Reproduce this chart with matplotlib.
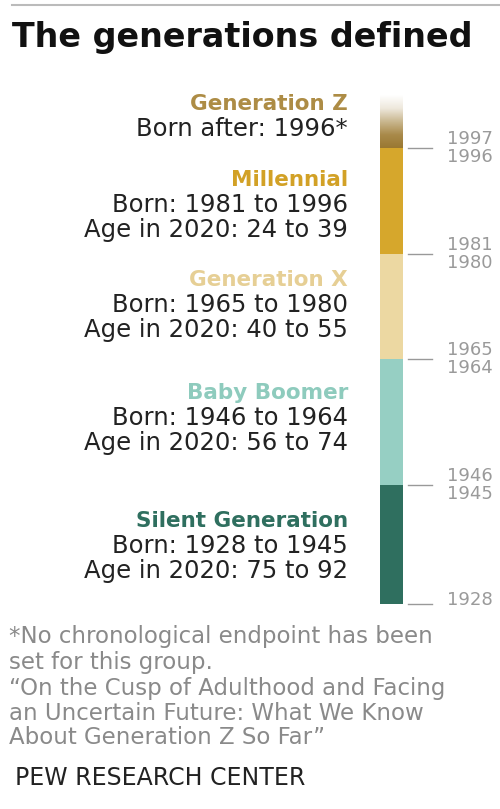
import matplotlib
matplotlib.use("Agg")
import matplotlib.pyplot as plt
import numpy as np
from matplotlib.colors import LinearSegmentedColormap
import matplotlib.transforms as mtransforms

# ---- data ----
generations = ["Silent Generation", "Baby Boomer", "Generation X", "Millennial", "Generation Z"]
starts = [1928, 1946, 1965, 1981, 1997]
ends = [1946, 1965, 1981, 1997, 2005]
bar_colors = ["#2f6f5f", "#96cfc3", "#ecd8a2", "#d6a72c", None]
label_colors = ["#2f6f5f", "#8ecbbd", "#e6cf95", "#d2a126", "#ad8c45"]
born_lines = ["Born: 1928 to 1945", "Born: 1946 to 1964", "Born: 1965 to 1980",
              "Born: 1981 to 1996", "Born after: 1996*"]
age_lines = ["Age in 2020: 75 to 92", "Age in 2020: 56 to 74", "Age in 2020: 40 to 55",
             "Age in 2020: 24 to 39", None]
boundary_years = [1946, 1965, 1981, 1997]
upper_tick_labels = ["1946", "1965", "1981", "1997"]
lower_tick_labels = ["1945", "1964", "1980", "1996"]
bottom_year = 1928
bottom_label = "1928"
title = "The generations defined"
footnote = ["*No chronological endpoint has been",
            "set for this group.",
            "\u201cOn the Cusp of Adulthood and Facing",
            "an Uncertain Future: What We Know",
            "About Generation Z So Far\u201d"]
source = "PEW RESEARCH CENTER"

W, H = 500, 809
fig = plt.figure(figsize=(W / 100, H / 100), dpi=100)
fig.patch.set_facecolor("white")

def fy(py):
    return 1 - py / H

def fx(px):
    return px / W

# top rule
fig.add_artist(plt.Line2D([fx(12), fx(500)], [fy(5), fy(5)], color="#bbbbbb", lw=1.5))

fig.text(fx(12), fy(37), title, fontsize=24, fontweight="bold", color="#111111",
         va="center", ha="left", family="DejaVu Sans")

# bar axes
top_px, bot_px = 95, 604
ax = fig.add_axes([fx(380), fy(bot_px), fx(403) - fx(380), (bot_px - top_px) / H])
ax.set_xlim(0, 1)
ax.set_ylim(1928, 2005)
ax.axis("off")

for s, e, c in zip(starts, ends, bar_colors):
    if c is not None:
        ax.bar(0.5, e - s, bottom=s, width=1.0, color=c, linewidth=0)

# Gen Z gradient
cmap = LinearSegmentedColormap.from_list("gz", ["#9a7832", "#a98a4a", "#c9b78f", "#eee8dc", "#ffffff"])
grad = np.linspace(0, 1, 256).reshape(-1, 1)
ax.imshow(grad, extent=(0, 1, starts[4], ends[4]), origin="lower", aspect="auto", cmap=cmap)
ax.set_xlim(0, 1)
ax.set_ylim(1928, 2005)

trans = mtransforms.blended_transform_factory(ax.transAxes, ax.transData)
tick_x0, tick_x1 = 1.22, 2.26
lab_x = 2.92
tick_col = "#999999"
for yv, up, lo in zip(boundary_years, upper_tick_labels, lower_tick_labels):
    ax.plot([tick_x0, tick_x1], [yv, yv], transform=trans, color=tick_col, lw=1, clip_on=False)
    ax.annotate(up, (lab_x, yv), xycoords=trans, xytext=(0, 9), textcoords="offset pixels",
                ha="left", va="center", fontsize=13, color="#9a9a9a", annotation_clip=False)
    ax.annotate(lo, (lab_x, yv), xycoords=trans, xytext=(0, -9), textcoords="offset pixels",
                ha="left", va="center", fontsize=13, color="#9a9a9a", annotation_clip=False)
ax.plot([tick_x0, tick_x1], [bottom_year, bottom_year], transform=trans, color=tick_col, lw=1, clip_on=False)
ax.annotate(bottom_label, (lab_x, bottom_year), xycoords=trans, xytext=(0, 4), textcoords="offset pixels",
            ha="left", va="center", fontsize=13, color="#9a9a9a", annotation_clip=False)

# left labels (pixel y centers of title lines)
title_y = [521, 393, 280, 180, 104]
rx = fx(348)
for name, col, born, age, ty in zip(generations, label_colors, born_lines, age_lines, title_y):
    fig.text(rx, fy(ty), name, ha="right", va="center", fontsize=15.5, fontweight="bold", color=col)
    fig.text(rx, fy(ty + 25), born, ha="right", va="center", fontsize=17.5, color="#222222")
    if age:
        fig.text(rx, fy(ty + 50), age, ha="right", va="center", fontsize=17.5, color="#222222")

foot_y = [636, 662, 688, 713, 738]
for line, yy in zip(footnote, foot_y):
    fig.text(fx(9), fy(yy), line, ha="left", va="center", fontsize=16.5, color="#8a8a8a")

fig.text(fx(15), fy(778), source, ha="left", va="center", fontsize=17, color="#222222")

fig.savefig("out.png", dpi=100, facecolor="white")
